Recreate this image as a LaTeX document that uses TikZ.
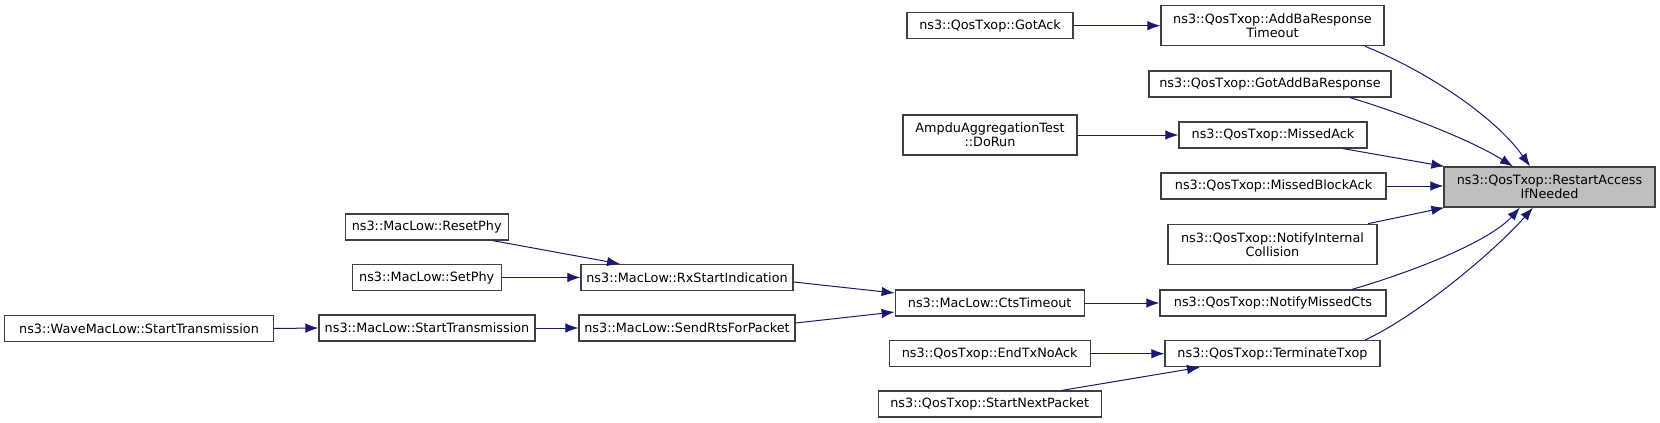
\documentclass[tikz,border=0pt]{standalone}
\usepackage{fontspec}
\setmainfont{DejaVu Sans}
\usetikzlibrary{arrows.meta,calc}
\definecolor{edgeblue}{HTML}{191970}
\definecolor{boxline}{HTML}{404040}
\definecolor{hilite}{HTML}{BFBFBF}
\begin{document}
\begin{tikzpicture}[x=1pt,y=-1pt,
  fbox/.style={draw=boxline,line width=1.2pt,fill=white,inner sep=0pt,minimum height=26pt,align=center,font=\fontsize{12.8}{14}\selectfont},
  tbox/.style={fbox,minimum height=40pt},
  conn/.style={draw=edgeblue,line width=1pt,-{Latex[length=13pt,width=9.5pt]}}
]
\useasboundingbox (0,0) rectangle (1660,423);
% column 5
\node[tbox,fill=hilite,minimum width=211pt] (restart) at (1549.5,187) {ns3::QosTxop::RestartAccess\\IfNeeded};
% column 4
\node[tbox,minimum width=223pt] (addba) at (1272.5,25.7) {ns3::QosTxop::AddBaResponse\\Timeout};
\node[fbox,minimum width=242pt] (gotaddba) at (1270,84) {ns3::QosTxop::GotAddBaResponse};
\node[fbox,minimum width=188pt] (missedack) at (1273,135) {ns3::QosTxop::MissedAck};
\node[fbox,minimum width=225pt] (missedblock) at (1273.5,186) {ns3::QosTxop::MissedBlockAck};
\node[tbox,minimum width=209pt] (notifyint) at (1272.5,244.3) {ns3::QosTxop::NotifyInternal\\Collision};
\node[fbox,minimum width=226pt] (notifymissed) at (1273,303) {ns3::QosTxop::NotifyMissedCts};
\node[fbox,minimum width=215pt] (terminate) at (1272.5,353.7) {ns3::QosTxop::TerminateTxop};
% column 3
\node[fbox,minimum width=166pt] (gotack) at (990,25.7) {ns3::QosTxop::GotAck};
\node[tbox,minimum width=174pt] (dorun) at (990,135) {AmpduAggregationTest\\::DoRun};
\node[fbox,minimum width=189pt] (ctstimeout) at (989.7,303) {ns3::MacLow::CtsTimeout};
\node[fbox,minimum width=201pt] (endtx) at (989.7,353.7) {ns3::QosTxop::EndTxNoAck};
\node[fbox,minimum width=223pt] (startnext) at (989.7,404) {ns3::QosTxop::StartNextPacket};
% column 2
\node[fbox,minimum width=212pt] (rxstart) at (687,277.5) {ns3::MacLow::RxStartIndication};
\node[fbox,minimum width=216pt] (sendrts) at (687,328) {ns3::MacLow::SendRtsForPacket};
% column 1
\node[fbox,minimum width=163pt] (resetphy) at (426.7,227) {ns3::MacLow::ResetPhy};
\node[fbox,minimum width=149pt] (setphy) at (426.7,277.5) {ns3::MacLow::SetPhy};
\node[fbox,minimum width=216pt] (starttx) at (427,328) {ns3::MacLow::StartTransmission};
% column 0
\node[fbox,minimum width=269pt] (wave) at (139,328.5) {ns3::WaveMacLow::StartTransmission};

% edges into restart
\draw[conn] ($(addba.south)+(92.5,0)$) .. controls +(60,24) and +(-35,-50) .. ($(restart.north)+(-19.5,0)$);
\draw[conn] ($(gotaddba.south)+(80,0)$) .. controls +(50,15) and +(-43,-27) .. ($(restart.north)+(-36.5,0)$);
\draw[conn] ($(missedack.south)+(70,0)$) -- ($(restart.north west)+(1,0)$);
\draw[conn] (missedblock.east) -- (restart.west |- missedblock.east);
\draw[conn] ($(notifyint.north)+(95.5,0)$) -- ($(restart.south west)+(1,0)$);
\draw[conn] ($(notifymissed.north)+(79,0)$) .. controls +(68,-20) and +(-30,33) .. ($(restart.south)+(-29.5,0)$);
\draw[conn] ($(terminate.north)+(92.5,0)$) .. controls +(55,-26) and +(-38,43) .. ($(restart.south)+(-16.5,0)$);
% left edges
\draw[conn] (gotack.east) -- (addba.west);
\draw[conn] (dorun.east) -- (missedack.west);
\draw[conn] (ctstimeout.east) -- (notifymissed.west);
\draw[conn] (endtx.east) -- (terminate.west);
\draw[conn] ($(startnext.north)+(72,0)$) -- ($(terminate.south)+(-72.5,0)$);
\draw[conn] ($(rxstart.east)+(0,4.5)$) -- ($(ctstimeout.west)+(0,-10)$);
\draw[conn] ($(sendrts.east)+(0,-5)$) -- ($(ctstimeout.west)+(0,9)$);
\draw[conn] ($(resetphy.south)+(66,0)$) -- ($(rxstart.north)+(-67,0)$);
\draw[conn] (setphy.east) -- (rxstart.west);
\draw[conn] (starttx.east) -- (sendrts.west);
\draw[conn] (wave.east) -- (starttx.west);
\end{tikzpicture}
\end{document}
